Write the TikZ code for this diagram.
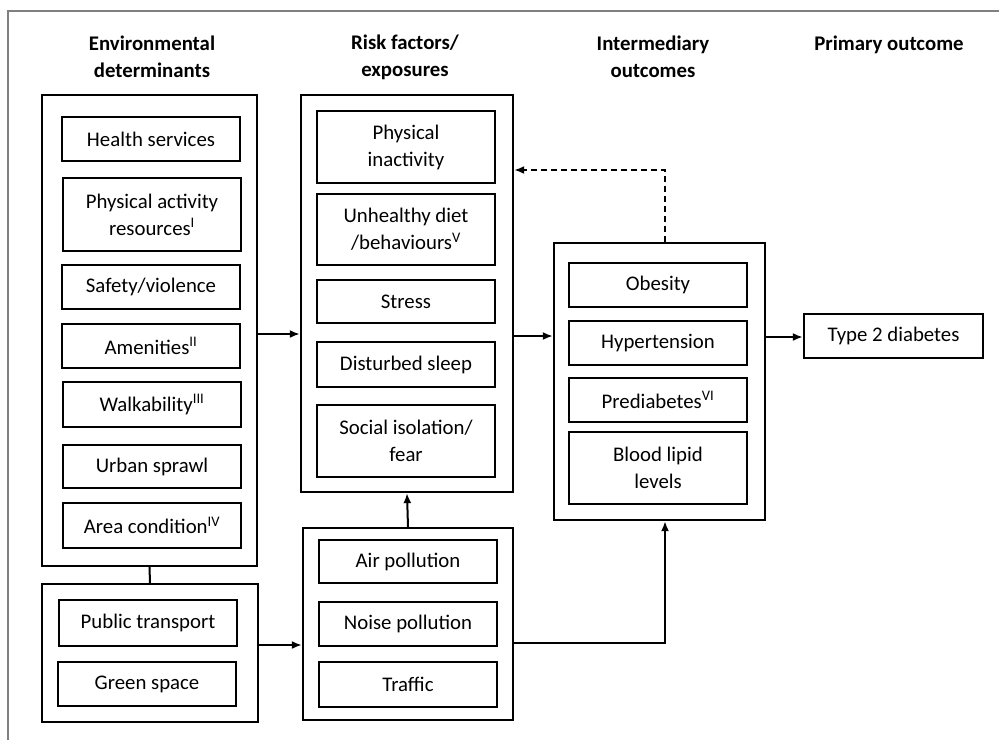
\documentclass[tikz,border=0pt]{standalone}
\usepackage{fontspec}
\setmainfont{Carlito}
\usetikzlibrary{arrows.meta,calc}
\begin{document}
\begin{tikzpicture}[x=1pt,y=-1pt,
  every node/.style={font=\fontsize{20.8}{27}\selectfont, align=center, inner sep=0pt},
  ibox/.style={draw, line width=2.3pt, minimum width=178pt, minimum height=44pt},
  obox/.style={draw, line width=2.3pt},
  head/.style={font=\fontsize{20.8}{27}\selectfont\bfseries},
  arr/.style={line width=2pt, -{Latex[length=10pt,width=8pt]}},
  darr/.style={line width=2pt, dash pattern=on 6pt off 4pt, -{Latex[length=10pt,width=8pt]}}
]
\useasboundingbox (0,0) rectangle (999,740);
\draw[gray, line width=1.5pt] (8,740) -- (8,11) -- (999,11);

% headers
\node[head] (h1) at (152,57) {Environmental\\determinants};
\node[head] (h2) at (405,57) {Risk factors/\\exposures};
\node[head] (h3) at (653,57) {Intermediary\\outcomes};
\node[head] (h4) at (889,45) {Primary outcome};

% outer boxes
\node[obox, minimum width=215pt, minimum height=471pt] (box1) at (149.5,330.5) {};
\node[obox, minimum width=216pt, minimum height=138pt] (box2) at (150,653) {};
\node[obox, minimum width=212pt, minimum height=397pt] (risk) at (407,293.5) {};
\node[obox, minimum width=210pt, minimum height=192pt] (poll) at (408,624) {};
\node[obox, minimum width=211pt, minimum height=277pt] (inter) at (659.5,381.5) {};

% left inner
\node[ibox] (hs) at (151,139) {Health services};
\node[ibox, minimum height=73pt] (par) at (152,214.5) {Physical activity\\resources\textsuperscript{I}};
\node[ibox] (saf) at (151,287) {Safety/violence};
\node[ibox] (ame) at (151,346) {Amenities\textsuperscript{II}};
\node[ibox, minimum height=45pt] (walk) at (152,404.5) {Walkability\textsuperscript{III}};
\node[ibox, minimum height=43pt] (urb) at (152,466.5) {Urban sprawl};
\node[ibox, minimum height=45pt] (area) at (152,525.5) {Area condition\textsuperscript{IV}};

\node[ibox, minimum height=46pt] (pt) at (148,623) {Public transport};
\node[ibox] (gs) at (147,684) {Green space};

% risk inner
\node[ibox, minimum height=72pt] (pi) at (406,147) {Physical\\inactivity};
\node[ibox, minimum height=71pt] (ud) at (406,229.5) {Unhealthy diet\\/behaviours\textsuperscript{V}};
\node[ibox, minimum height=43pt] (st) at (406,301.5) {Stress};
\node[ibox, minimum height=45pt] (ds) at (406,364.5) {Disturbed sleep};
\node[ibox, minimum height=72pt] (si) at (406,441) {Social isolation/\\fear};

% pollution inner
\node[ibox, minimum height=43pt] (ap) at (408,561.5) {Air pollution};
\node[ibox] (np) at (408,624) {Noise pollution};
\node[ibox, minimum height=45pt] (tr) at (408,684.5) {Traffic};

% intermediate inner
\node[ibox] (ob) at (658,285) {Obesity};
\node[ibox] (hy) at (658,343) {Hypertension};
\node[ibox] (pd) at (658,400) {Prediabetes\textsuperscript{VI}};
\node[ibox, minimum height=72pt] (bl) at (658,468) {Blood lipid\\levels};

% outcome
\node[ibox, minimum width=179pt] (t2d) at (893.5,336) {Type 2 diabetes};

% connectors
\coordinate (ya) at (0,334);
\coordinate (yb) at (0,336);
\coordinate (yc) at (0,337);
\coordinate (yd) at (0,645);
\coordinate (ye) at (0,643);
\coordinate (yf) at (0,170);
\coordinate (xi) at (665,0);

\draw[arr] (box1.east |- ya) -- (risk.west |- ya);
\draw[arr] (risk.east |- yb) -- (inter.west |- yb);
\draw[arr] (inter.east |- yc) -- (t2d.west |- yc);
\draw[arr] (box2.east |- yd) -- (poll.west |- yd);
\draw[line width=2pt] (box1.south) -- (box2.north);
\draw[arr] (poll.north) -- (risk.south);
\draw[arr] (poll.east |- ye) -| (inter.south -| xi);
\draw[darr] (inter.north -| xi) |- (risk.east |- yf);
\end{tikzpicture}
\end{document}
